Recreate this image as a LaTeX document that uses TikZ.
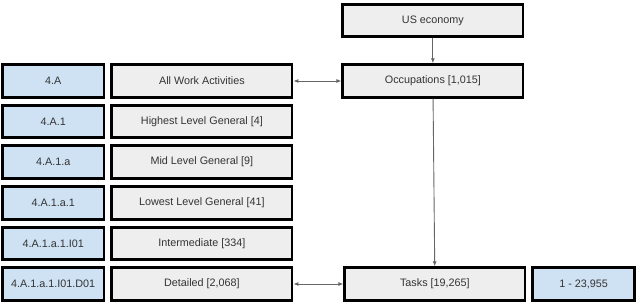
\documentclass[tikz,border=0pt]{standalone}
\usepackage{fontspec}
\setmainfont{Liberation Sans}
\usepackage{xcolor}
\usetikzlibrary{positioning, arrows.meta}
\definecolor{boxgray}{HTML}{EEEEEE}
\definecolor{boxblue}{HTML}{CFE2F3}
\definecolor{linegray}{HTML}{666666}
\definecolor{textgray}{HTML}{333333}

\begin{document}
\begin{tikzpicture}[x=1pt, y=1pt, node distance=40.6pt,
    codebox/.style={rectangle, draw=black, line width=2.8pt, fill=boxblue, minimum width=101.6pt, minimum height=32.6pt, text=textgray, font=\fontsize{10.8}{13}\selectfont},
    namebox/.style={codebox, fill=boxgray, minimum width=180.2pt},
    link/.style={draw=linegray, line width=0.9pt, arrows={-Latex[length=5pt, width=4pt]}},
    duallink/.style={link, arrows={Latex[length=5pt, width=4pt]-Latex[length=5pt, width=4pt]}}]
    \useasboundingbox (0,0) rectangle (640,303);

    \node[codebox] (c1) at (53.2,222) {4.A};
    \node[codebox, below of=c1] (c2) {4.A.1};
    \node[codebox, below of=c2] (c3) {4.A.1.a};
    \node[codebox, below of=c3] (c4) {4.A.1.a.1};
    \node[codebox, below of=c4] (c5) {4.A.1.a.1.I01};
    \node[codebox, below of=c5] (c6) {4.A.1.a.1.I01.D01};

    \node[namebox, right=5pt of c1] (n1) {All Work Activities};
    \node[namebox, right=5pt of c2] (n2) {Highest Level General [4]};
    \node[namebox, right=5pt of c3] (n3) {Mid Level General [9]};
    \node[namebox, right=5pt of c4] (n4) {Lowest Level General [41]};
    \node[namebox, right=5pt of c5] (n5) {Intermediate [334]};
    \node[namebox, right=5pt of c6] (n6) {Detailed [2,068]};

    \node[namebox, right=48pt of n1] (occ) {Occupations [1,015]};
    \node[namebox, above=25pt of occ] (us) {US economy};
    \node[namebox, right=50pt of n6] (tasks) {Tasks [19,265]};
    \node[codebox, right=5pt of tasks] (ids) {1 - 23,955};

    \draw[link] (us) -- (occ);
    \draw[link] (occ) -- (tasks);
    \draw[duallink] (n1) -- (occ);
    \draw[duallink] (n6) -- (tasks);
\end{tikzpicture}
\end{document}
